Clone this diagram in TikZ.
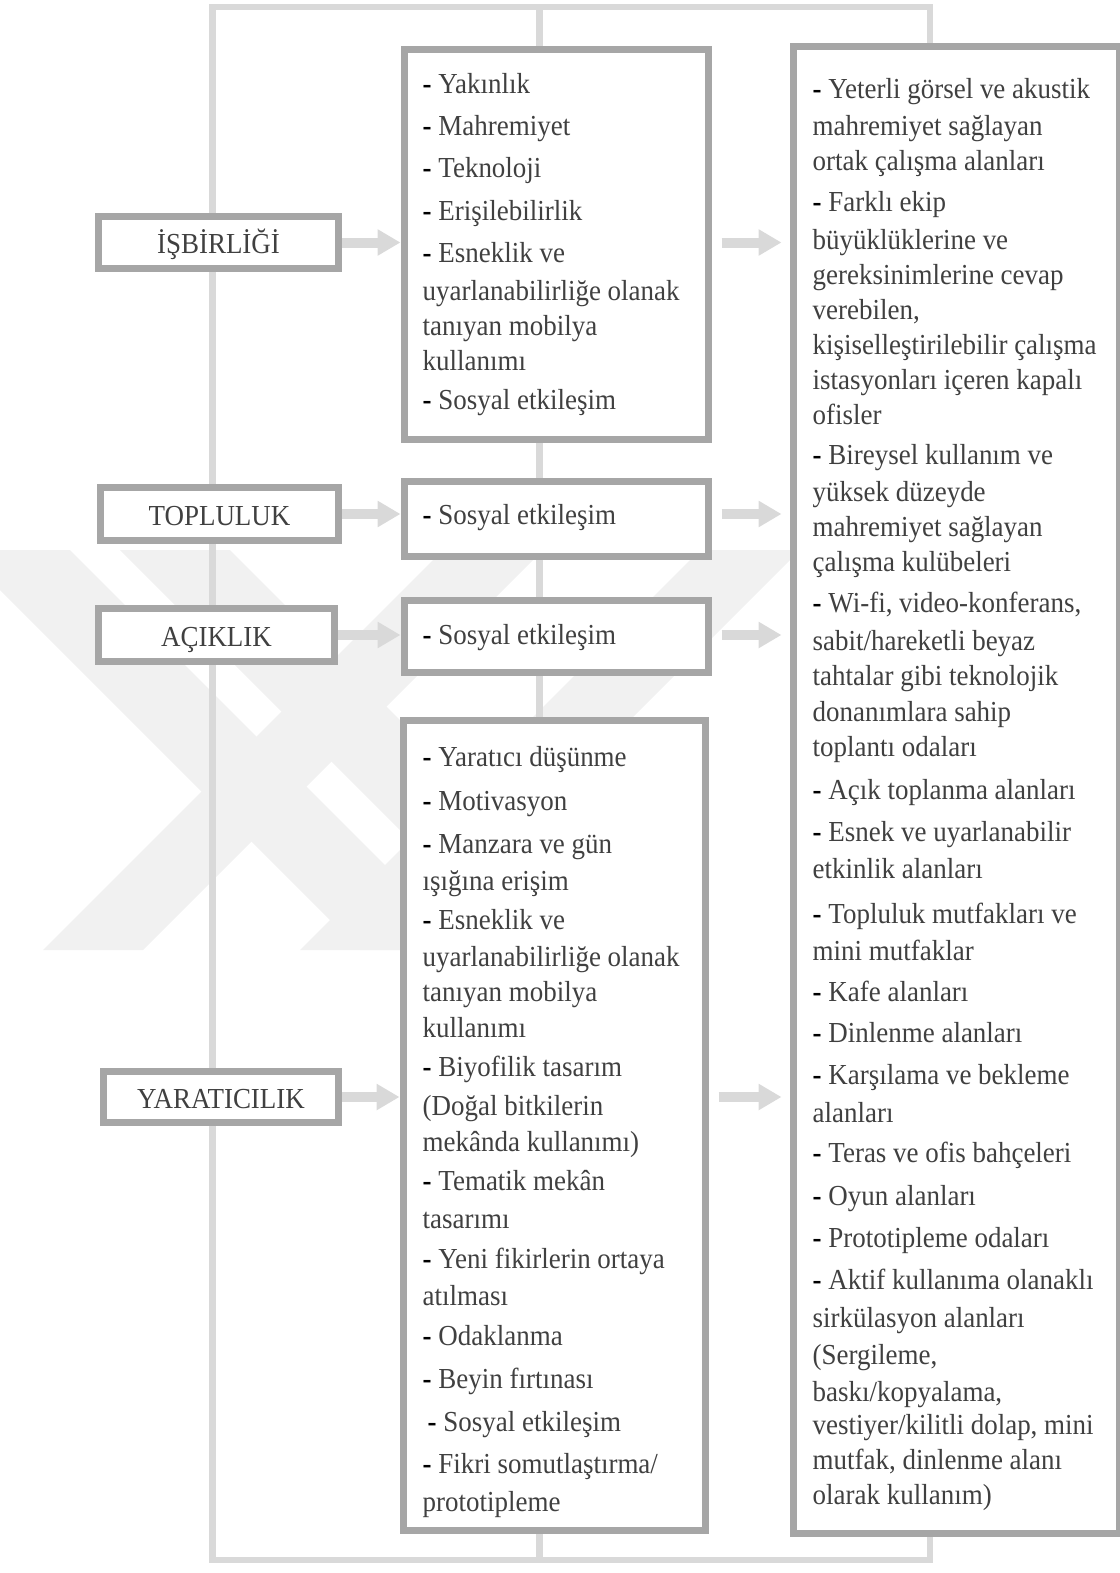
\documentclass[tikz,border=0pt]{standalone}
\usepackage{fontspec}
\setmainfont{Liberation Serif}[FakeStretch=0.93]
\usetikzlibrary{arrows.meta}
\definecolor{framegray}{HTML}{D9D9D9}
\definecolor{boxgray}{HTML}{A6A6A6}
\definecolor{txt}{HTML}{404040}
\definecolor{wmgray}{HTML}{F1F1F1}
\newcommand{\dsh}{\textbf{\color{black}-}\ }
\begin{document}
\begin{tikzpicture}[x=1pt,y=-1pt,
  frame/.style={draw=framegray,line width=6.5pt},
  box/.style={draw=boxgray,line width=7pt,fill=white,inner sep=0pt,anchor=north west},
  lbox/.style={draw=boxgray,line width=7pt,fill=white,inner sep=0pt,
    font=\fontsize{29}{36}\selectfont,text=txt,text height=22pt,text depth=0pt},
  body/.style={text=txt,anchor=base west,inner sep=0pt,font=\fontsize{29}{35}\selectfont},
  arr/.style={draw=framegray,line width=10pt,-{Triangle[length=23pt 0,width=25pt 0]}},
  wm/.style={fill=wmgray},
]
\useasboundingbox (0,0) rectangle (1119,1573);
% faint watermark
\begin{scope}
\clip (0,550) rectangle (1119,950);
\fill[wm] (-90,500) -- (20,500) -- (470,950) -- (360,950) -- cycle;
\fill[wm] (70,500) -- (180,500) -- (630,950) -- (520,950) -- cycle;
\fill[wm] (493,500) -- (593,500) -- (143,950) -- (43,950) -- cycle;
\fill[wm] (750,500) -- (850,500) -- (400,950) -- (300,950) -- cycle;
\end{scope}
% background frame
\draw[frame] (212.5,7) rectangle (930,1560);
\draw[frame] (539.5,7) -- (539.5,1560);

% left boxes
\node[lbox,minimum width=240pt,minimum height=52pt] (l1) at (218.5,242.5) {İŞBİRLİĞİ};
\node[lbox,minimum width=238pt,minimum height=53pt] (l2) at (219.5,514) {TOPLULUK};
\node[lbox,minimum width=236pt,minimum height=53pt] (l3) at (216.5,635) {AÇIKLIK};
\node[lbox,minimum width=235pt,minimum height=51pt] (l4) at (221,1097) {YARATICILIK};

% middle boxes
\node[box,minimum width=304pt,minimum height=389pt] (m1) at (400.5,46.5) {};
\node[box,minimum width=304pt,minimum height=75pt] (m2) at (400.5,477.5) {};
\node[box,minimum width=304pt,minimum height=72pt] (m3) at (400.5,596.5) {};
\node[box,minimum width=302pt,minimum height=810pt] (m4) at (399.5,716.5) {};
% right box
\node[box,minimum width=326pt,minimum height=1486pt] (r) at (789.5,43.5) {};

% texts
\node[body] (m1t) at (422.5,93.5) {%
\begin{tabular}[t]{@{}l@{}}
\dsh Yakınlık\\[7pt]
\dsh Mahremiyet\\[7pt]
\dsh Teknoloji\\[8pt]
\dsh Erişilebilirlik\\[7pt]
\dsh Esneklik ve\\[3pt]
uyarlanabilirliğe olanak\\
tanıyan mobilya\\
kullanımı\\[4pt]
\dsh Sosyal etkileşim
\end{tabular}};
\node[body] (m2t) at (422.5,524) {\dsh Sosyal etkileşim};
\node[body] (m3t) at (422.5,644) {\dsh Sosyal etkileşim};
\node[body] (m4t) at (422.5,766) {%
\begin{tabular}[t]{@{}l@{}}
\dsh Yaratıcı düşünme\\[9.2pt]
\dsh Motivasyon\\[8.2pt]
\dsh Manzara ve gün\\[2.1pt]
ışığına erişim\\[4.1pt]
\dsh Esneklik ve\\[2.1pt]
uyarlanabilirliğe olanak\\
tanıyan mobilya\\[1.1pt]
kullanımı\\[4.1pt]
\dsh Biyofilik tasarım\\[3.1pt]
(Doğal bitkilerin\\[1.1pt]
mekânda kullanımı)\\[4.1pt]
\dsh Tematik mekân\\[3.1pt]
tasarımı\\[5.1pt]
\dsh Yeni fikirlerin ortaya\\[2.1pt]
atılması\\[5.1pt]
\dsh Odaklanma\\[8.2pt]
\dsh Beyin fırtınası\\[7.2pt]
\hspace{5pt}\dsh Sosyal etkileşim\\[7.2pt]
\dsh Fikri somutlaştırma/\\[3.1pt]
prototipleme
\end{tabular}};
\node[body] (rt) at (812.5,98.6) {%
\begin{tabular}[t]{@{}l@{}}
\dsh Yeterli görsel ve akustik\\[2.2pt]
mahremiyet sağlayan\\
ortak çalışma alanları\\[6.1pt]
\dsh Farklı ekip\\[2.2pt]
büyüklüklerine ve\\
gereksinimlerine cevap\\
verebilen,\\
kişiselleştirilebilir çalışma\\
istasyonları içeren kapalı\\
ofisler\\[5.1pt]
\dsh Bireysel kullanım ve\\[2.2pt]
yüksek düzeyde\\
mahremiyet sağlayan\\
çalışma kulübeleri\\[6.2pt]
\dsh Wi-fi, video-konferans,\\[3pt]
sabit/hareketli beyaz\\
tahtalar gibi teknolojik\\[1pt]
donanımlara sahip\\
toplantı odaları\\[8pt]
\dsh Açık toplanma alanları\\[7.2pt]
\dsh Esnek ve uyarlanabilir\\[2.1pt]
etkinlik alanları\\[9.2pt]
\dsh Topluluk mutfakları ve\\[2.1pt]
mini mutfaklar\\[6.2pt]
\dsh Kafe alanları\\[6.1pt]
\dsh Dinlenme alanları\\[7.2pt]
\dsh Karşılama ve bekleme\\[3.1pt]
alanları\\[5.1pt]
\dsh Teras ve ofis bahçeleri\\[7.2pt]
\dsh Oyun alanları\\[7.1pt]
\dsh Prototipleme odaları\\[7.2pt]
\dsh Aktif kullanıma olanaklı\\[3.1pt]
sirkülasyon alanları\\[2.2pt]
(Sergileme,\\[2.1pt]
baskı/kopyalama,\\[-1.9pt]
vestiyer/kilitli dolap, mini\\[-0.9pt]
mutfak, dinlenme alanı\\[0.2pt]
olarak kullanım)
\end{tabular}};

% arrows
\draw[arr] (l1.east) -- (m1.west |- l1.east);
\draw[arr] (l2.east) -- (m2.west |- l2.east);
\draw[arr] (l3.east) -- (m3.west |- l3.east);
\draw[arr] (l4.east) -- (m4.west |- l4.east);
\draw[arr,shorten <=10pt,shorten >=8pt] (m1.east |- l1.east) -- (r.west |- l1.east);
\draw[arr,shorten <=10pt,shorten >=8pt] (m2.east |- l2.east) -- (r.west |- l2.east);
\draw[arr,shorten <=10pt,shorten >=8pt] (m3.east |- l3.east) -- (r.west |- l3.east);
\draw[arr,shorten <=10pt,shorten >=8pt] (m4.east |- l4.east) -- (r.west |- l4.east);
\end{tikzpicture}
\end{document}
